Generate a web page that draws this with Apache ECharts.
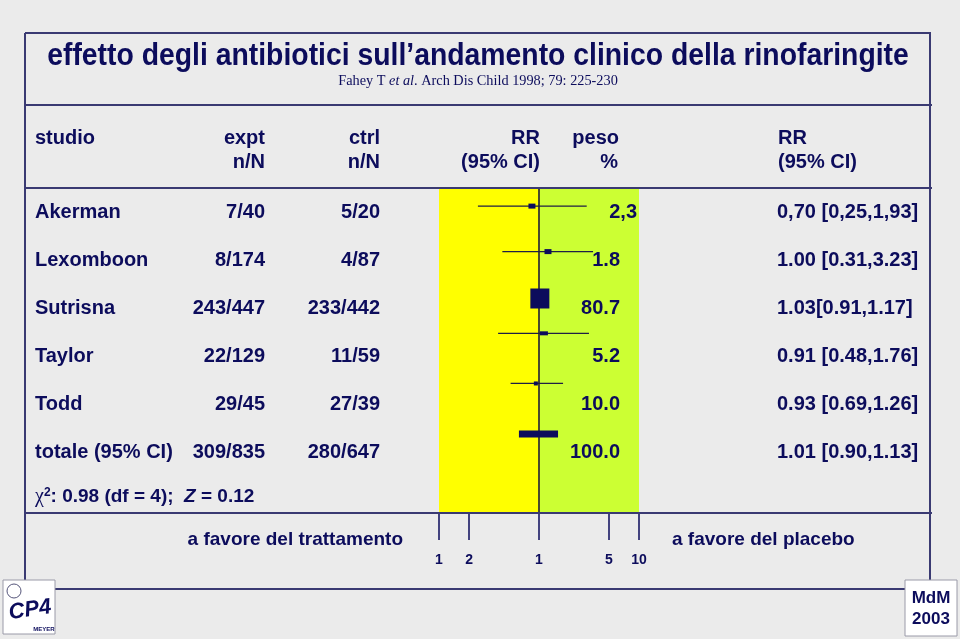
<!DOCTYPE html>
<html>
<head>
<meta charset="utf-8">
<script src="https://cdn.jsdelivr.net/npm/echarts@6/dist/echarts.min.js"></script>
<style>
html,body{margin:0;padding:0;background:#ebebeb;}
#chart{width:960px;height:639px;}
</style>
</head>
<body>
<div id="chart"></div>
<script>
// ---- data ----
const studies = ['Akerman', 'Lexomboon', 'Sutrisna', 'Taylor', 'Todd', 'totale (95% CI)'];
const exptN = ['7/40', '8/174', '243/447', '22/129', '29/45', '309/835'];
const ctrlN = ['5/20', '4/87', '233/442', '11/59', '27/39', '280/647'];
const peso = ['2,3', '1.8', '80.7', '5.2', '10.0', '100.0'];
const rrText = ['0,70 [0,25,1,93]', '1.00 [0.31,3.23]', '1.03[0.91,1.17]', '0.91 [0.48,1.76]', '0.93 [0.69,1.26]', '1.01 [0.90,1.13]'];
// plotted marks as drawn in the picture (log scale)
const plotRR = [0.85, 1.23, 1.02, 1.12, 0.93, 0.99];
const plotLo = [0.245, 0.43, 0.91, 0.39, 0.52, 0.63];
const plotHi = [3.0, 3.47, 1.17, 3.16, 1.74, 1.55];
const plotRow = [0.39, 1.37, 2.38, 3.13, 4.21, 5.30];
const tickValues = [0.1, 0.2, 1, 5, 10];
const tickLabels = ['1', '2', '1', '5', '10'];

// ---- styles ----
const NAVY = '#0c0c5c';
const FRAME = '#3a3a72';
const boxSize = [[7, 5], [7, 5], [19, 20], [8, 4], [4, 4]];
const FONT = '"Liberation Sans", Arial, sans-serif';

const chart = echarts.init(document.getElementById('chart'), null, {renderer: 'canvas'});

const rowY = [212, 260, 308, 356, 404, 452];
const graphics = [];
function txt(text, x, y, align, font, extra) {
  graphics.push(Object.assign({
    type: 'text', silent: true, z: 100,
    style: {text: text, x: x, y: y, textAlign: align, textVerticalAlign: 'middle', font: font, fill: NAVY}
  }, extra || {}));
}
function line(x1, y1, x2, y2, w, c) {
  graphics.push({type: 'line', silent: true, z: 100, shape: {x1, y1, x2, y2}, style: {stroke: c || FRAME, lineWidth: w || 2}});
}
// frame
line(25, 33, 931, 33);
line(25, 33, 25, 580);
line(930, 33, 930, 580);
line(25, 105, 932, 105);
line(25, 188, 932, 188);
line(25, 513, 932, 513);
line(55, 589, 905, 589);

// title (slightly condensed bold sans)
graphics.push({
  type: 'text', silent: true, z: 100, x: 478, y: 56, scaleX: 0.9,
  style: {text: 'effetto degli antibiotici sull\u2019andamento clinico della rinofaringite',
    x: 0, y: 0, textAlign: 'center', textVerticalAlign: 'middle',
    font: 'bold 31.5px ' + FONT, fill: NAVY}
});
graphics.push({
  type: 'text', silent: true, z: 100,
  style: {
    x: 478, y: 81, textAlign: 'center', textVerticalAlign: 'middle',
    text: '{r|Fahey T }{i|et al}{r|. Arch Dis Child 1998; 79: 225-230}',
    rich: {
      r: {font: '14.3px "Liberation Serif", serif', fill: NAVY},
      i: {font: 'italic 14.3px "Liberation Serif", serif', fill: NAVY}
    }
  }
});

// headers
const HF = 'bold 20px ' + FONT;
txt('studio', 35, 138, 'left', HF);
txt('expt', 265, 138, 'right', HF);
txt('n/N', 265, 162, 'right', HF);
txt('ctrl', 380, 138, 'right', HF);
txt('n/N', 380, 162, 'right', HF);
txt('RR', 540, 138, 'right', HF);
txt('(95% CI)', 540, 162, 'right', HF);
txt('peso', 619, 138, 'right', HF);
txt('%', 618, 162, 'right', HF);
txt('RR', 778, 138, 'left', HF);
txt('(95% CI)', 778, 162, 'left', HF);

// rows
studies.forEach(function (s, i) {
  const y = rowY[i];
  txt(s, 35, y, 'left', HF);
  txt(exptN[i], 265, y, 'right', HF);
  txt(ctrlN[i], 380, y, 'right', HF);
  txt(peso[i], i === 0 ? 637 : 620, y, 'right', HF);
  txt(rrText[i], 777, y, 'left', HF);
});

// heterogeneity
graphics.push({
  type: 'text', silent: true, z: 100,
  style: {
    x: 35, y: 497, textVerticalAlign: 'middle',
    text: '{g|\u03c7}{s|2}{a|: 0.98 (df = 4);  }{z|Z}{a| = 0.12}',
    rich: {
      g: {font: '20px "Liberation Serif", serif', fill: NAVY},
      s: {font: 'bold 12px ' + FONT, fill: NAVY, verticalAlign: 'top', padding: [0, 0, 8, 0]},
      a: {font: 'bold 19px ' + FONT, fill: NAVY},
      z: {font: 'italic bold 19px ' + FONT, fill: NAVY}
    }
  }
});

txt('a favore del trattamento', 403, 540, 'right', 'bold 19px ' + FONT);
txt('a favore del placebo', 672, 540, 'left', 'bold 19px ' + FONT);

// logos
graphics.push({type: 'rect', silent: true, z: 100, shape: {x: 3, y: 580, width: 52, height: 54},
  style: {fill: '#ffffff', stroke: '#9a9aa8', lineWidth: 1}});
graphics.push({type: 'circle', silent: true, z: 101, shape: {cx: 14, cy: 591, r: 7},
  style: {fill: '#ffffff', stroke: '#55557a', lineWidth: 1}});
txt('CP4', 30, 610, 'center', 'italic bold 22px ' + FONT, {z: 101, rotation: 0.15, originX: 30, originY: 610});
txt('MEYER', 44, 629, 'center', 'bold 6px ' + FONT, {z: 101});
graphics.push({type: 'rect', silent: true, z: 100, shape: {x: 905, y: 580, width: 52, height: 56},
  style: {fill: '#ffffff', stroke: '#9a9aa8', lineWidth: 1}});
txt('MdM', 931, 598, 'center', 'bold 17px ' + FONT, {z: 101});
txt('2003', 931, 619, 'center', 'bold 17px ' + FONT, {z: 101});

const last = studies.length - 1;
const seriesData = studies.map(function (s, i) {
  return [plotRow[i], plotRR[i], plotLo[i], plotHi[i]];
});

const option = {
  backgroundColor: '#ebebeb',
  animation: false,
  grid: {left: 439, width: 200, top: 188, height: 325},
  xAxis: {
    type: 'log', logBase: 10, min: 0.1, max: 10,
    axisLine: {show: false, onZero: false},
    splitLine: {show: false},
    axisTick: {show: true, customValues: tickValues, length: 27, lineStyle: {color: NAVY, width: 1.5}},
    axisLabel: {
      show: true, customValues: tickValues, margin: 40,
      color: NAVY, fontFamily: 'Liberation Sans', fontWeight: 'bold', fontSize: 14,
      formatter: function (v) {
        const k = tickValues.findIndex(function (t) { return Math.abs(t - v) < 1e-6; });
        return k >= 0 ? tickLabels[k] : '';
      }
    }
  },
  yAxis: {type: 'value', min: 0, max: 7, inverse: true, show: false},
  series: [{
    type: 'custom',
    encode: {x: [1, 2, 3], y: 0},
    data: seriesData,
    z: 5,
    renderItem: function (params, api) {
      const y = api.value(0);
      const pC = api.coord([api.value(1), y]);
      const pLo = api.coord([api.value(2), y]);
      const pHi = api.coord([api.value(3), y]);
      const i = params.dataIndex;
      if (i === last) {
        return {type: 'rect', shape: {x: pLo[0], y: pLo[1] - 3.5, width: pHi[0] - pLo[0], height: 7},
          style: {fill: NAVY}};
      }
      const s = boxSize[i];
      return {type: 'group', children: [
        {type: 'line', shape: {x1: pLo[0], y1: pLo[1], x2: pHi[0], y2: pHi[1]},
          style: {stroke: '#1e1e46', lineWidth: 1.2}},
        {type: 'rect', shape: {x: pC[0] - s[0] / 2, y: pC[1] - s[1] / 2, width: s[0], height: s[1]},
          style: {fill: NAVY}}
      ]};
    },
    markArea: {
      silent: true,
      data: [
        [{xAxis: 0.097, itemStyle: {color: '#ffff00', opacity: 1}}, {xAxis: 0.995}],
        [{xAxis: 1.02, itemStyle: {color: '#ccff33', opacity: 1}}, {xAxis: 10.3}]
      ]
    },
    markLine: {
      silent: true, symbol: 'none', label: {show: false},
      lineStyle: {color: '#4a4a2c', width: 2, type: 'solid'},
      data: [{xAxis: 1}]
    }
  }],
  graphic: {elements: graphics}
};
chart.setOption(option);
</script>
</body>
</html>
